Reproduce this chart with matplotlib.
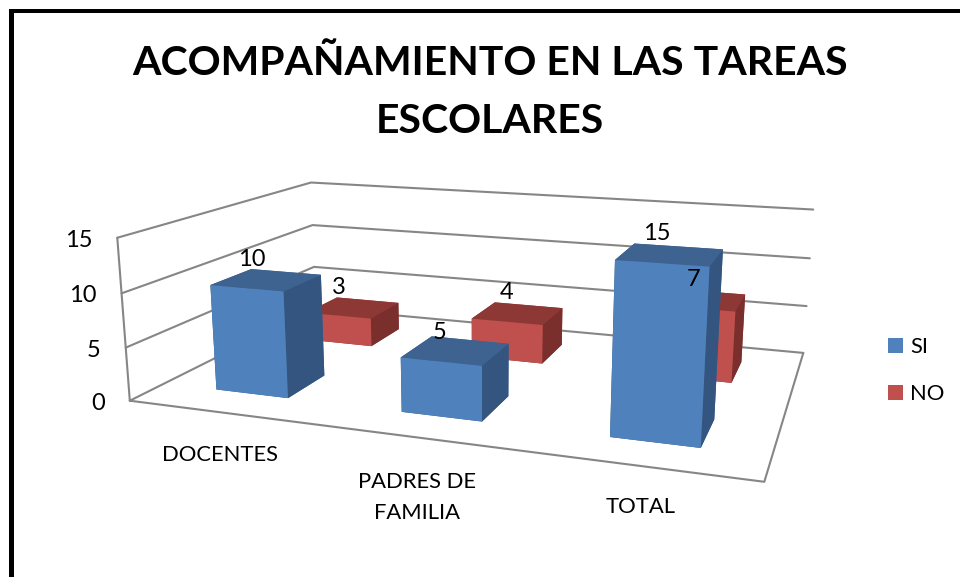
import numpy as np, matplotlib
matplotlib.use('Agg')
import matplotlib.pyplot as plt
from matplotlib.patches import Patch, Rectangle
from mpl_toolkits.mplot3d import proj3d

plt.rcParams['font.family'] = ['Lato', 'DejaVu Sans']

categories = ['DOCENTES', 'PADRES DE\nFAMILIA', 'TOTAL']
series_names = ['SI', 'NO']
si_values = [10, 5, 15]
no_values = [3, 4, 7]
z_ticks = [0, 5, 10, 15]
title = 'ACOMPAÑAMIENTO EN LAS TAREAS\nESCOLARES'

W, H = 960, 577
ELEV, AZIM, ROLL, FOCAL = 13.9178, -70.8117, -0.0845, 0.30840
BOX = (1, 0.64032, 0.26632)
SCALE, TX, TY = 3767.21, 489.213, 276.825
BAR_W, BAR_D = 0.40, 0.20
ROW_Y = [0.15, 0.65]
GRID = '#868686'
FACES = {'SI': ['#33557F', '#3E6390', '#4F81BD', '#3E6390', '#33557F', '#33557F'],
         'NO': ['#7B2F2D', '#8E3836', '#C0504D', '#8E3836', '#7B2F2D', '#7B2F2D']}
CAT_DY = [-33, -35, -31]
SI_OFF = [(-15, 10), (-16, 7), (-13, 11)]
NO_OFF = [(-14, 10), (-11, 10), (-8, 10)]

fig = plt.figure(figsize=(W / 100, H / 100), dpi=100, facecolor='white')
ax = fig.add_subplot(projection='3d', proj_type='persp', focal_length=FOCAL, computed_zorder=False)
ax.view_init(ELEV, AZIM, ROLL)
ax.set_box_aspect(BOX)
ax.set_xlim(0, 3); ax.set_ylim(0, 1); ax.set_zlim(0, 15)
ax.set_axis_off()
ax.patch.set_alpha(0)
inv = ax.transLimits.inverted()
(x0, y0), (x1, y1) = inv.transform((0, 0)), inv.transform((1, 1))
ax.set_position([(TX + SCALE * x0) / W, (TY + SCALE * y0) / H,
                 SCALE * (x1 - x0) / W, SCALE * (y1 - y0) / H])

def line(xs, ys, zs):
    ax.plot(xs, ys, zs, color=GRID, lw=1.5, zorder=1, clip_on=False, solid_capstyle='round')

for z in z_ticks:
    line([0, 0, 3], [0, 1, 1], [z, z, z])
line([0, 0], [0, 0], [0, 15])
line([0, 3, 3], [0, 0, 1], [0, 0, 0])

xs = np.arange(3) + 0.5 - BAR_W / 2
for k, (name, vals) in enumerate([('NO', no_values), ('SI', si_values)]):
    row = 1 - k
    ax.bar3d(xs, [ROW_Y[row]] * 3, [0] * 3, BAR_W, BAR_D, vals, color=FACES[name] * 3,
             shade=False, zorder=3 + k, edgecolor='none', clip_on=False)

def label(text, x, y, z, dx, dy, **kw):
    xp, yp, _ = proj3d.proj_transform(x, y, z, ax.get_proj())
    ax.annotate(text, xy=(xp, yp), xycoords='data', xytext=(dx, dy), textcoords='offset pixels',
                annotation_clip=False, zorder=10, color='black', **kw)

FS, NUM = 15.8, 17
for z in z_ticks:
    label(str(z), 0, 0, z, -25, -2.5, ha='right', va='center', fontsize=NUM)
for i, c in enumerate(categories):
    label(c, i + 0.5, 0, 0, 0, CAT_DY[i], ha='center', va='top', fontsize=FS, linespacing=1.65)
for i in range(3):
    label(str(si_values[i]), i + 0.5, ROW_Y[0] + BAR_D / 2, si_values[i], *SI_OFF[i], ha='center', va='bottom', fontsize=NUM)
    label(str(no_values[i]), i + 0.5, ROW_Y[1] + BAR_D / 2, no_values[i], *NO_OFF[i], ha='center', va='bottom', fontsize=NUM)

fig.text(490 / W, 1 - 92.5 / H, title, ha='center', va='center', fontsize=29.5, fontweight='bold', linespacing=1.67)
fig.add_artist(Rectangle((8.5 / W, 0), 5 / W, 1 - 9 / H, transform=fig.transFigure, fc='black', ec='none'))
fig.add_artist(Rectangle((8.5 / W, 1 - 12.5 / H), 1, 3.5 / H, transform=fig.transFigure, fc='black', ec='none'))

handles = [Patch(facecolor=FACES[n][2], linewidth=0) for n in series_names]
fig.legend(handles, series_names, loc='center left', bbox_to_anchor=(888 / W, 1 - 370.5 / H), frameon=False,
           fontsize=FS, handlelength=0.68, handleheight=0.68, handletextpad=0.32, labelspacing=1.25,
           borderpad=0, borderaxespad=0)
fig.savefig('out.png', dpi=100)
